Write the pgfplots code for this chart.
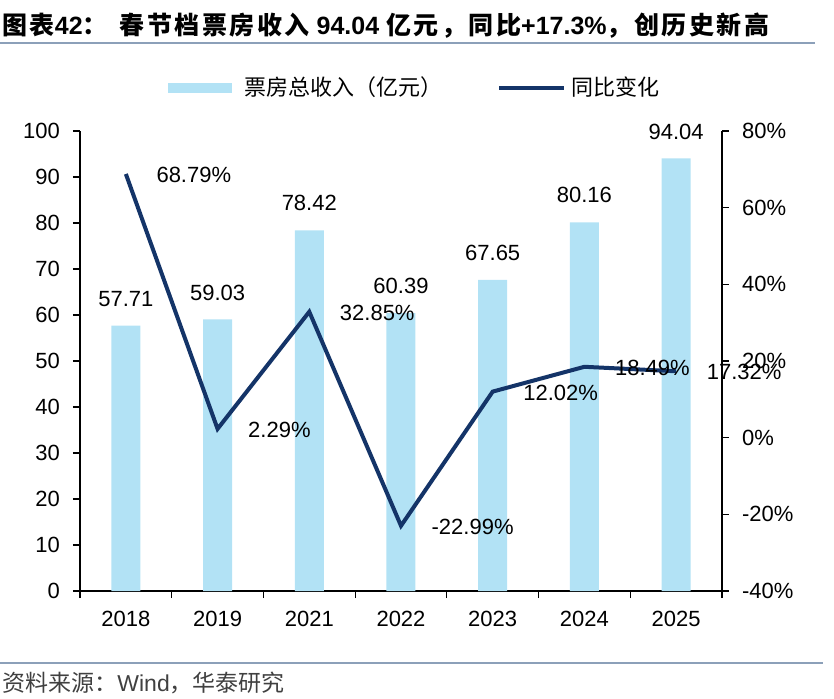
\documentclass[border=0pt]{standalone}
\usepackage{fontspec}
\setmainfont{Liberation Sans}
\newfontfamily\cjk{Noto Sans CJK SC}[BoldFont={Noto Sans CJK SC Bold}]
\newfontfamily\cjkt{Noto Sans CJK SC Bold}[LetterSpace=10]
\usepackage{pgfplots}
\usepackage{pgfplotstable}
\pgfplotsset{compat=1.18}

\definecolor{barc}{RGB}{178,226,245}
\definecolor{linec}{RGB}{20,52,104}
\definecolor{rulec}{RGB}{140,160,185}

% box office (100 million yuan)
\pgfplotstableread{
x rev
0 57.71
1 59.03
2 78.42
3 60.39
4 67.65
5 80.16
6 94.04
}\revtable

% year-on-year change (%)
\pgfplotstableread{
x yoy
0 68.79
1 2.29
2 32.85
3 -22.99
4 12.02
5 18.49
6 17.32
}\yoytable

\begin{document}
\begin{tikzpicture}
\useasboundingbox (-40pt,-53.5pt) rectangle (377pt,295.5pt);

\pgfplotsset{
  base/.style={
    scale only axis, width=321pt, height=230pt,
    at={(0,0)}, anchor=south west,
    xmin=-0.5, xmax=6.5, clip=false,
    /pgf/number format/assume math mode=true,
    tick label style={font=\fontsize{11}{13}\selectfont, text=black},
    axis line style={black, line width=0.6pt},
    tick style={black, line width=0.6pt},
    major tick length=3.5pt, tick align=outside,
  }
}

\begin{axis}[base,
    ymin=0, ymax=100, ytick={0,10,...,100},
    axis y line*=left, axis x line*=bottom,
    xtick={-0.5,0.5,...,6.5},
    xticklabels={2018,2019,2021,2022,2023,2024,2025,},
    x tick label style={xshift=22.93pt, yshift=-3pt},
    y tick label style={xshift=-3pt},
    legend style={draw=none, fill=none, at={(0.137,1.0935)}, anchor=west,
      inner sep=0pt, legend columns=2,
      font=\cjk\fontsize{11}{13}\selectfont,
      /tikz/every odd column/.append style={column sep=4pt},
      /tikz/every even column/.append style={column sep=25.5pt}},
  ]
  \addplot[ybar, bar width=14.5pt, fill=barc, draw=none,
    nodes near coords, point meta=explicit symbolic,
    every node near coord/.append style={anchor=south, yshift=6pt,
      font=\fontsize{11}{13}\selectfont, text=black},
    legend image code/.code={\fill[barc] (0pt,-2.5pt) rectangle (32pt,2.5pt);}]
    table[x=x, y=rev, meta=rev] {\revtable};
  \addlegendentry{票房总收入（亿元）}
  \addlegendimage{legend image code/.code={%
    \draw[linec, line width=2pt] (0pt,0pt) -- (29pt,0pt);
    \draw[linec, line width=2pt, overlay] (28pt,0pt) -- (32.5pt,0pt);}}
  \addlegendentry{同比变化}
\end{axis}

\begin{axis}[base,
    ymin=-40, ymax=80, ytick={-40,-20,...,80},
    yticklabels={-40\%,-20\%,0\%,20\%,40\%,60\%,80\%},
    y tick label style={xshift=3pt},
    axis y line*=right, axis x line=none, xtick=\empty,
  ]
  \addplot[linec, line width=2pt, mark=none,
    nodes near coords={\pgfplotspointmeta\%}, point meta=explicit symbolic,
    every node near coord/.append style={anchor=west, xshift=11pt, yshift=-0.5pt,
      font=\fontsize{11}{13}\selectfont, text=black}]
    table[x=x, y=yoy, meta=yoy] {\yoytable};
\end{axis}

% title, rules and source
\node[anchor=west, inner sep=0pt] at (-39pt,282.5pt)
  {\bfseries\fontsize{12.5}{14}\selectfont{\cjkt 图表}42{\cjkt ：}\hspace{6pt}{\cjkt 春节档票房收入}\ 94.04\ {\cjkt 亿元，同比}+17.3\%{\cjkt ，创历史新高}};
\draw[rulec, line width=1pt] (-40pt,274pt) -- (367.5pt,274pt);
\draw[rulec, line width=1pt] (-40pt,-36pt) -- (371.5pt,-36pt);
\node[anchor=west, inner sep=0pt, text=black!75] at (-39pt,-46pt)
  {\fontsize{11.5}{13}\selectfont{\cjk 资料来源：}Wind{\cjk ，华泰研究}};
\end{tikzpicture}
\end{document}
